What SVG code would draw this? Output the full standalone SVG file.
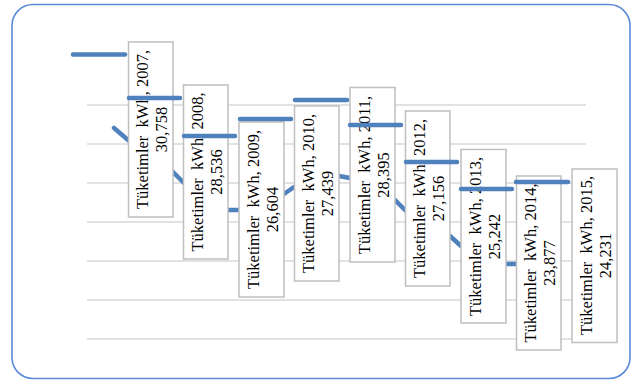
<svg xmlns="http://www.w3.org/2000/svg" width="632" height="381" viewBox="0 0 632 381">
<style>
.frame{fill:#fff;stroke:#5A8AD6;stroke-width:1.6}
.grid{stroke:#D9D9D9;stroke-width:1.5;fill:none}
.series{fill:none;stroke:#4F81BD;stroke-width:4.5;stroke-linecap:round;stroke-linejoin:round}
.dash{stroke:#4F81BD;stroke-width:4.5;stroke-linecap:round}
.box{fill:#fff;stroke:#BFBFBF;stroke-width:1.5}
.lbl{font-family:"Liberation Serif","Times New Roman",serif;font-size:16.5px;fill:#000;text-anchor:middle}
</style>
<rect class="frame" x="12" y="4.5" width="618" height="374" rx="21" ry="21"/>
<g id="gridlines">
<line class="grid" x1="87" y1="105" x2="586" y2="105"/>
<line class="grid" x1="87" y1="144" x2="586" y2="144"/>
<line class="grid" x1="87" y1="183" x2="586" y2="183"/>
<line class="grid" x1="87" y1="222" x2="586" y2="222"/>
<line class="grid" x1="87" y1="261" x2="586" y2="261"/>
<line class="grid" x1="87" y1="300" x2="586" y2="300"/>
<line class="grid" x1="87" y1="339" x2="586" y2="339"/>
</g>
<g id="connectors">
<polyline class="series" points="114,128 128,140 150,158 173,172 183,182 205,205 228,210 239,210 262,205 284,194 294,187 318,178 339,176 350,178 372,188 395,200 405,210 430,225 450,236 461,246 485,262 506,264 516,264 530,264"/>
</g>
<g id="label-2007"><rect class="box" x="128.5" y="42" width="44.5" height="175"/><text class="lbl" transform="translate(148,129.5) rotate(-90)"><tspan x="0" y="0">Tüketimler&#160; kWh, 2007,</tspan><tspan x="0" y="18.5">30,758</tspan></text></g>
<g id="label-2008"><rect class="box" x="183.5" y="85" width="44.5" height="174"/><text class="lbl" transform="translate(203,172) rotate(-90)"><tspan x="0" y="0">Tüketimler&#160; kWh, 2008,</tspan><tspan x="0" y="18.5">28,536</tspan></text></g>
<g id="label-2009"><rect class="box" x="239" y="122" width="45" height="175"/><text class="lbl" transform="translate(259,209.5) rotate(-90)"><tspan x="0" y="0">Tüketimler&#160; kWh, 2009,</tspan><tspan x="0" y="18.5">26,604</tspan></text></g>
<g id="label-2010"><rect class="box" x="294.5" y="106" width="44.5" height="175"/><text class="lbl" transform="translate(314,193.5) rotate(-90)"><tspan x="0" y="0">Tüketimler&#160; kWh, 2010,</tspan><tspan x="0" y="18.5">27,439</tspan></text></g>
<g id="label-2011"><rect class="box" x="350" y="87.5" width="45" height="174.5"/><text class="lbl" transform="translate(370,175) rotate(-90)"><tspan x="0" y="0">Tüketimler&#160; kWh, 2011,</tspan><tspan x="0" y="18.5">28,395</tspan></text></g>
<g id="label-2012"><rect class="box" x="405.5" y="111" width="44.5" height="175"/><text class="lbl" transform="translate(425,198.5) rotate(-90)"><tspan x="0" y="0">Tüketimler&#160; kWh, 2012,</tspan><tspan x="0" y="18.5">27,156</tspan></text></g>
<g id="label-2013"><rect class="box" x="461" y="149.5" width="45" height="173.5"/><text class="lbl" transform="translate(481,236.5) rotate(-90)"><tspan x="0" y="0">Tüketimler&#160; kWh, 2013,</tspan><tspan x="0" y="18.5">25,242</tspan></text></g>
<g id="label-2014"><rect class="box" x="516.5" y="176" width="44.5" height="174"/><text class="lbl" transform="translate(536,263) rotate(-90)"><tspan x="0" y="0">Tüketimler&#160; kWh, 2014,</tspan><tspan x="0" y="18.5">23,877</tspan></text></g>
<g id="label-2015"><rect class="box" x="572" y="169" width="45" height="173.5"/><text class="lbl" transform="translate(592,255.5) rotate(-90)"><tspan x="0" y="0">Tüketimler&#160; kWh, 2015,</tspan><tspan x="0" y="18.5">24,231</tspan></text></g>
<g id="markers">
<line class="dash" x1="73" y1="54.5" x2="125" y2="54.5"/>
<line class="dash" x1="129" y1="98" x2="180" y2="98"/>
<line class="dash" x1="184" y1="136" x2="235" y2="136"/>
<line class="dash" x1="240" y1="119" x2="291" y2="119"/>
<line class="dash" x1="295" y1="100" x2="347" y2="100"/>
<line class="dash" x1="350" y1="125" x2="401" y2="125"/>
<line class="dash" x1="406" y1="162" x2="457" y2="162"/>
<line class="dash" x1="461" y1="189" x2="512" y2="189"/>
<line class="dash" x1="516" y1="182" x2="568" y2="182"/>
</g>
</svg>
